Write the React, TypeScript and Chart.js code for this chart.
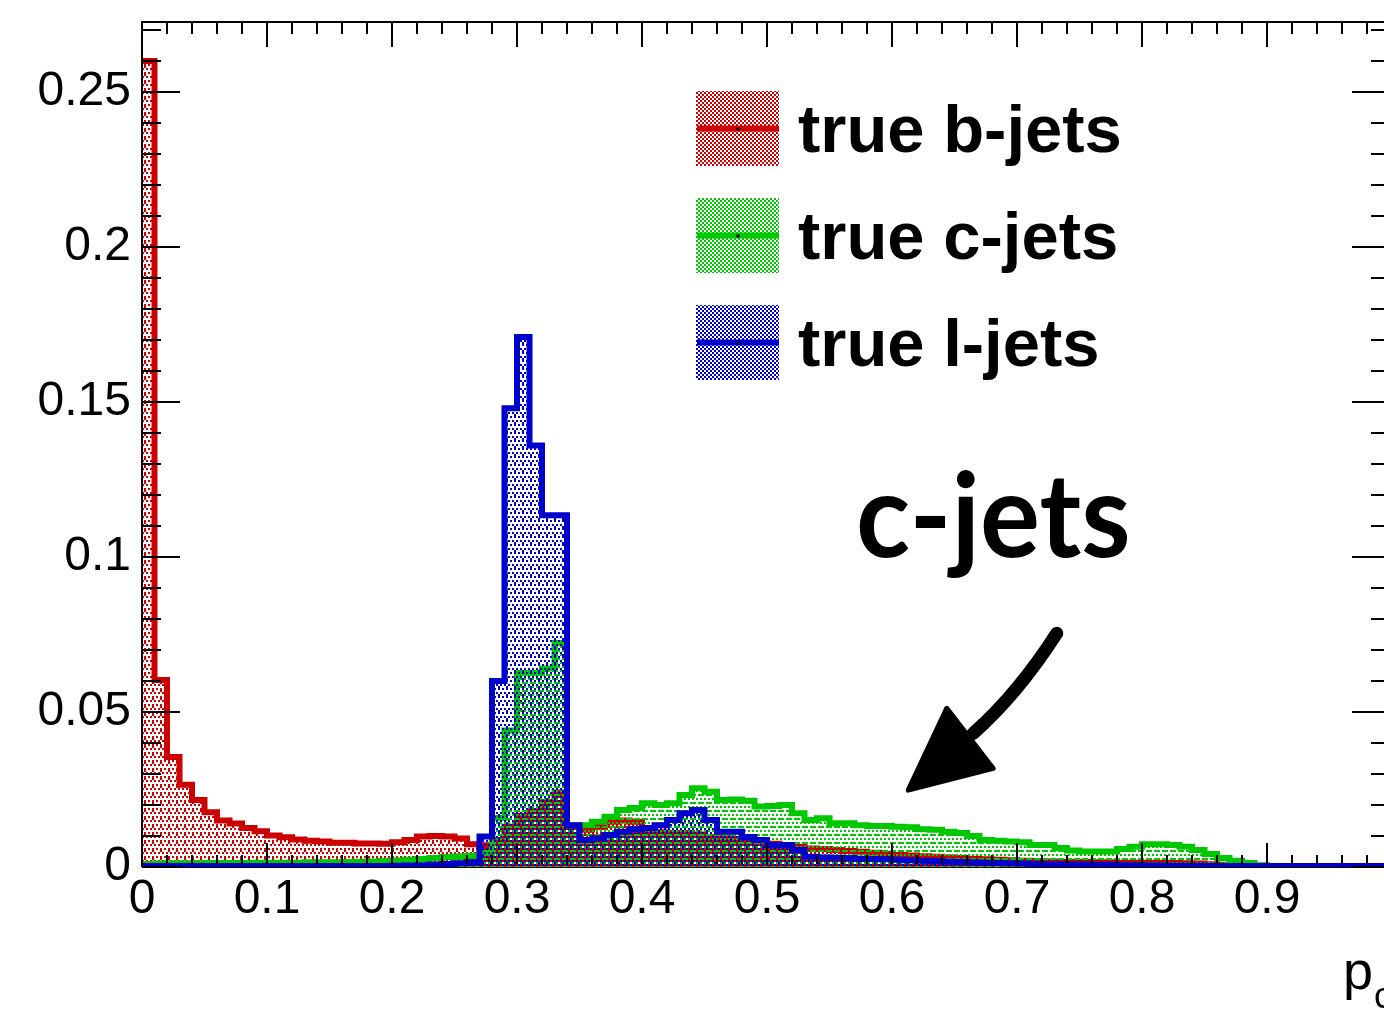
import React, { useEffect, useRef } from 'react';
import { Chart, registerables } from 'chart.js';
Chart.register(...registerables);

// ---------- data ----------
const X_MIN = 0;
const X_MAX = 1;
const BIN_WIDTH = 0.01;
const Y_MIN = 0;
const Y_MAX = 0.2726;
const X_TICK_LABELS = [0, 0.1, 0.2, 0.3, 0.4, 0.5, 0.6, 0.7, 0.8, 0.9];
const Y_TICK_LABELS = [0, 0.05, 0.1, 0.15, 0.2, 0.25];
const LEGEND_LABELS = ['true b-jets', 'true c-jets', 'true l-jets'];

const bJets = [
  0.260, 0.0603, 0.0355, 0.0265, 0.0216, 0.0177, 0.0150, 0.0140, 0.0126, 0.0115,
  0.0102, 0.0096, 0.0089, 0.0085, 0.0082, 0.0078, 0.0078, 0.0076, 0.0076, 0.0075,
  0.0080, 0.0087, 0.0098, 0.0100, 0.0098, 0.0092, 0.0073, 0.0070, 0.0087, 0.0130,
  0.0165, 0.0180, 0.0210, 0.0240, 0.0130, 0.0120, 0.0130, 0.0146, 0.0150, 0.0146,
  0.0120, 0.0112, 0.0110, 0.0110, 0.0105, 0.0096, 0.0094, 0.0090, 0.0088, 0.0084,
  0.0075, 0.0070, 0.0065, 0.0060, 0.0058, 0.0055, 0.0052, 0.0049, 0.0046, 0.0042,
  0.0039, 0.0037, 0.0035, 0.0033, 0.0031, 0.0029, 0.0027, 0.0025, 0.0023, 0.0022,
  0.0020, 0.0019, 0.0018, 0.0017, 0.0016, 0.0016, 0.0015, 0.0015, 0.0014, 0.0014,
  0.0014, 0.0014, 0.0013, 0.0012, 0.0011, 0.0009, 0.0007, 0.0005, 0.0004, 0.0003,
  0.0002, 0.0001, 0.0001, 0.0001, 0.0001, 0.0001, 0.0001, 0.0001, 0.0001, 0.0001,
];

const cJets = [
  0.0010, 0.0011, 0.0012, 0.0012, 0.0012, 0.0013, 0.0013, 0.0013, 0.0013, 0.0014,
  0.0014, 0.0014, 0.0014, 0.0015, 0.0015, 0.0015, 0.0016, 0.0017, 0.0018, 0.0019,
  0.0021, 0.0023, 0.0026, 0.0029, 0.0032, 0.0034, 0.0036, 0.0045, 0.0158, 0.0440,
  0.0626, 0.0626, 0.0640, 0.0723, 0.0135, 0.0135, 0.0146, 0.0162, 0.0184, 0.0190,
  0.0206, 0.0200, 0.0206, 0.0232, 0.0254, 0.0243, 0.0216, 0.0218, 0.0214, 0.0195,
  0.0197, 0.0200, 0.0173, 0.0152, 0.0157, 0.0141, 0.0141, 0.0135, 0.0132, 0.0132,
  0.0130, 0.0128, 0.0122, 0.0120, 0.0114, 0.0110, 0.0100, 0.0087, 0.0085, 0.0082,
  0.0080, 0.0071, 0.0071, 0.0061, 0.0053, 0.0050, 0.0050, 0.0050, 0.0058, 0.0065,
  0.0073, 0.0073, 0.0071, 0.0065, 0.0055, 0.0042, 0.0029, 0.0020, 0.0013, 0.0006,
  0.0003, 0.0001, 0.0001, 0.0001, 0.0001, 0.0001, 0.0001, 0.0001, 0.0001, 0.0001,
];

const lJets = [
  0.0003, 0.0003, 0.0003, 0.0003, 0.0003, 0.0003, 0.0003, 0.0003, 0.0003, 0.0003,
  0.0003, 0.0003, 0.0003, 0.0003, 0.0003, 0.0003, 0.0003, 0.0003, 0.0003, 0.0003,
  0.0004, 0.0005, 0.0006, 0.0008, 0.0010, 0.0012, 0.0015, 0.0098, 0.0600, 0.1480,
  0.1710, 0.1360, 0.1135, 0.1135, 0.0135, 0.0087, 0.0093, 0.0103, 0.0114, 0.0122,
  0.0126, 0.0135, 0.0152, 0.0173, 0.0184, 0.0152, 0.0114, 0.0114, 0.0097, 0.0087,
  0.0071, 0.0071, 0.0055, 0.0033, 0.0031, 0.0030, 0.0029, 0.0027, 0.0026, 0.0025,
  0.0023, 0.0022, 0.0020, 0.0019, 0.0017, 0.0016, 0.0015, 0.0014, 0.0013, 0.0012,
  0.0011, 0.0010, 0.0009, 0.0009, 0.0008, 0.0008, 0.0007, 0.0007, 0.0006, 0.0006,
  0.0005, 0.0005, 0.0004, 0.0004, 0.0004, 0.0003, 0.0003, 0.0003, 0.0003, 0.0003,
  0.0003, 0.0003, 0.0003, 0.0003, 0.0003, 0.0003, 0.0003, 0.0003, 0.0003, 0.0003,
];

// annotation anchors (data units)
const ANNOT_TEXT = 'c-jets';
const ANNOT_LEFT = 0.5736;
const ANNOT_RIGHT = 0.7888;
const ANNOT_BASE = 0.1001;
const ARROW_SHAFT = [[0.7318, 0.0754], [0.7010, 0.0560], [0.6650, 0.0431]];
const ARROW_HEAD = [[0.6438, 0.0512], [0.6810, 0.0318], [0.6130, 0.0248]];

// ---------- styling ----------
const COLORS = ['#cc0000', '#00c800', '#0000cc'];
const FONT = "'Liberation Sans', Arial, Helvetica, sans-serif";
const CANVAS_W = 1440;
const CANVAS_H = 1015;
// 2px cells inside an 8x8 pattern tile, one disjoint set per series
const PATTERN_CELLS = [
  [[0, 0], [2, 0], [1, 2], [3, 2], [0, 1]],
  [[1, 1], [3, 1], [0, 3], [2, 3], [2, 1]],
  [[1, 0], [3, 0], [0, 2], [2, 2], [1, 3]],
];
const LEGEND_CELLS = [[0, 0], [2, 0], [1, 1], [3, 1], [0, 2], [2, 2], [1, 3], [3, 3]];

function histPoints(values: number[]) {
  const pts = values.map((v, i) => ({ x: X_MIN + i * BIN_WIDTH, y: v }));
  pts.push({ x: X_MAX, y: values[values.length - 1] });
  return pts;
}

function makePattern(ctx: CanvasRenderingContext2D, color: string, cells: number[][]) {
  const c = document.createElement('canvas');
  c.width = 8;
  c.height = 8;
  const g = c.getContext('2d')!;
  g.fillStyle = color;
  cells.forEach(([x, y]) => g.fillRect(x * 2, y * 2, 2, 2));
  return ctx.createPattern(c, 'repeat') as CanvasPattern;
}

export default function App() {
  const ref = useRef<HTMLCanvasElement | null>(null);

  useEffect(() => {
    const canvas = ref.current!;
    const ctx0 = canvas.getContext('2d')!;
    const patterns = COLORS.map((col, i) => makePattern(ctx0, col, PATTERN_CELLS[i]));
    const legendPatterns = COLORS.map((col) => makePattern(ctx0, col, LEGEND_CELLS));

    const framePlugin = {
      id: 'rootFrame',
      beforeDatasetsDraw(chart: any) {
        const { ctx, chartArea } = chart;
        ctx.save();
        ctx.strokeStyle = '#000';
        ctx.lineWidth = 2;
        ctx.beginPath();
        ctx.moveTo(chartArea.left, chartArea.bottom);
        ctx.lineTo(chartArea.right, chartArea.bottom);
        ctx.stroke();
        ctx.restore();
      },
      afterDatasetsDraw(chart: any) {
        const { ctx, chartArea, scales } = chart;
        const xs = scales.x;
        const ys = scales.y;
        const { left, right, top, bottom } = chartArea;
        ctx.save();
        ctx.strokeStyle = '#000';
        ctx.lineWidth = 2;
        ctx.beginPath();
        ctx.moveTo(left, bottom);
        ctx.lineTo(left, top);
        ctx.lineTo(right, top);
        ctx.lineTo(right, bottom);
        ctx.stroke();
        ctx.beginPath();
        for (let i = 0; i <= 50; i++) {
          const px = Math.round(xs.getPixelForValue(i * 0.02));
          const major = i % 5 === 0;
          const lt = major ? 25 : 12;
          const lb = major ? 24 : 12;
          ctx.moveTo(px, top);
          ctx.lineTo(px, top + lt);
          ctx.moveTo(px, bottom - 3);
          ctx.lineTo(px, bottom - lb);
        }
        for (let i = 0; i <= 27; i++) {
          const py = Math.round(ys.getPixelForValue(i * 0.01));
          const major = i % 5 === 0;
          ctx.moveTo(left, py);
          ctx.lineTo(left + (major ? 38 : 19), py);
          ctx.moveTo(right, py);
          ctx.lineTo(right - (major ? 40 : 21), py);
        }
        ctx.stroke();
        ctx.restore();
      },
      afterDraw(chart: any) {
        const { ctx, scales } = chart;
        const xs = scales.x;
        const ys = scales.y;
        const P = (p: number[]) => [xs.getPixelForValue(p[0]), ys.getPixelForValue(p[1])];
        ctx.save();

        // legend
        for (let i = 0; i < 3; i++) {
          const bx = 696, by = 91 + 107 * i, bw = 83, bh = 75;
          ctx.fillStyle = legendPatterns[i];
          ctx.fillRect(bx, by, bw, bh);
          ctx.fillStyle = COLORS[i];
          ctx.fillRect(bx + 1, by + bh / 2 - 3, bw - 1, 6);
          ctx.fillStyle = '#000';
          ctx.fillRect(bx + bw / 2 - 1, by + bh / 2 - 1, 3, 3);
          ctx.font = `bold 67px ${FONT}`;
          ctx.textAlign = 'left';
          ctx.textBaseline = 'alphabetic';
          ctx.fillText(LEGEND_LABELS[i], 798, by + 61);
        }

        // "c-jets" annotation
        const size = 108;
        ctx.font = `bold ${size}px Lato, 'Open Sans', sans-serif`;
        const m = ctx.measureText(ANNOT_TEXT);
        const inkW = m.actualBoundingBoxLeft + m.actualBoundingBoxRight;
        const x0 = xs.getPixelForValue(ANNOT_LEFT);
        const x1 = xs.getPixelForValue(ANNOT_RIGHT);
        const base = ys.getPixelForValue(ANNOT_BASE);
        const sx = (x1 - x0) / inkW;
        ctx.save();
        ctx.translate(x0, base);
        ctx.scale(sx, 1.08);
        ctx.fillStyle = '#000';
        ctx.textAlign = 'left';
        ctx.textBaseline = 'alphabetic';
        ctx.fillText(ANNOT_TEXT, m.actualBoundingBoxLeft, 0);
        ctx.restore();

        // arrow
        const s0 = P(ARROW_SHAFT[0]);
        const s1 = P(ARROW_SHAFT[1]);
        const s2 = P(ARROW_SHAFT[2]);
        ctx.strokeStyle = '#000';
        ctx.lineCap = 'round';
        ctx.lineWidth = 13;
        ctx.beginPath();
        ctx.moveTo(s0[0], s0[1]);
        ctx.quadraticCurveTo(s1[0], s1[1], s2[0], s2[1]);
        ctx.stroke();
        const h0 = P(ARROW_HEAD[0]);
        const h1 = P(ARROW_HEAD[1]);
        const h2 = P(ARROW_HEAD[2]);
        ctx.fillStyle = '#000';
        ctx.lineJoin = 'round';
        ctx.lineWidth = 5;
        ctx.beginPath();
        ctx.moveTo(h0[0], h0[1]);
        ctx.lineTo(h1[0], h1[1]);
        ctx.lineTo(h2[0], h2[1]);
        ctx.closePath();
        ctx.fill();
        ctx.stroke();

        // axis title p_c (right aligned at axis end)
        const xEnd = xs.getPixelForValue(X_MAX);
        ctx.font = `36px ${FONT}`;
        const cw = ctx.measureText('c').width;
        ctx.font = `54px ${FONT}`;
        const pw = ctx.measureText('p').width;
        ctx.fillStyle = '#000';
        ctx.textAlign = 'left';
        ctx.fillText('p', xEnd - cw - pw - 1, 989);
        ctx.font = `36px ${FONT}`;
        ctx.fillText('c', xEnd - cw, 1008);

        ctx.restore();
      },
    };

    const series = [bJets, cJets, lJets];
    const chart = new Chart(canvas, {
      type: 'line',
      data: {
        datasets: series.map((vals, i) => ({
          label: LEGEND_LABELS[i],
          data: histPoints(vals),
          stepped: true,
          borderColor: COLORS[i],
          borderWidth: 6,
          borderJoinStyle: 'miter',
          borderCapStyle: 'butt',
          backgroundColor: patterns[i],
          fill: 'origin',
          pointRadius: 0,
          tension: 0,
          order: 3 - i,
        })),
      },
      options: {
        animation: false,
        responsive: false,
        devicePixelRatio: 1,
        events: [],
        layout: { padding: { top: 22, right: CANVAS_W - 1392, left: 0, bottom: 0 } },
        plugins: { legend: { display: false }, tooltip: { enabled: false } },
        scales: {
          x: {
            type: 'linear',
            min: X_MIN,
            max: X_MAX,
            grid: { display: false, drawTicks: false },
            border: { display: false },
            afterBuildTicks: (scale: any) => {
              scale.ticks = X_TICK_LABELS.map((v) => ({ value: v }));
            },
            afterFit: (scale: any) => {
              scale.height = 148;
              scale.paddingLeft = 0;
              scale.paddingRight = 0;
              scale.paddingTop = 0;
              scale.paddingBottom = 0;
            },
            ticks: {
              autoSkip: false,
              maxRotation: 0,
              padding: 4,
              color: '#000',
              font: { family: FONT, size: 48 },
              callback: (v: any) => String(v),
            },
          },
          y: {
            type: 'linear',
            min: Y_MIN,
            max: Y_MAX,
            grid: { display: false, drawTicks: false },
            border: { display: false },
            afterBuildTicks: (scale: any) => {
              scale.ticks = Y_TICK_LABELS.map((v) => ({ value: v }));
            },
            afterFit: (scale: any) => {
              scale.width = 142;
              scale.paddingLeft = 0;
              scale.paddingRight = 0;
              scale.paddingTop = 0;
              scale.paddingBottom = 0;
            },
            ticks: {
              padding: 11,
              color: '#000',
              font: { family: FONT, size: 48 },
              callback: (v: any) => String(v),
            },
          },
        },
      } as any,
      plugins: [framePlugin],
    });
    return () => chart.destroy();
  }, []);

  return (
    <div
      style={{
        position: 'fixed',
        left: 0,
        top: 0,
        width: 1384,
        height: 1015,
        overflow: 'hidden',
        background: '#fff',
      }}
    >
      <canvas
        ref={ref}
        width={CANVAS_W}
        height={CANVAS_H}
        style={{ display: 'block', width: CANVAS_W, height: CANVAS_H }}
      />
    </div>
  );
}
